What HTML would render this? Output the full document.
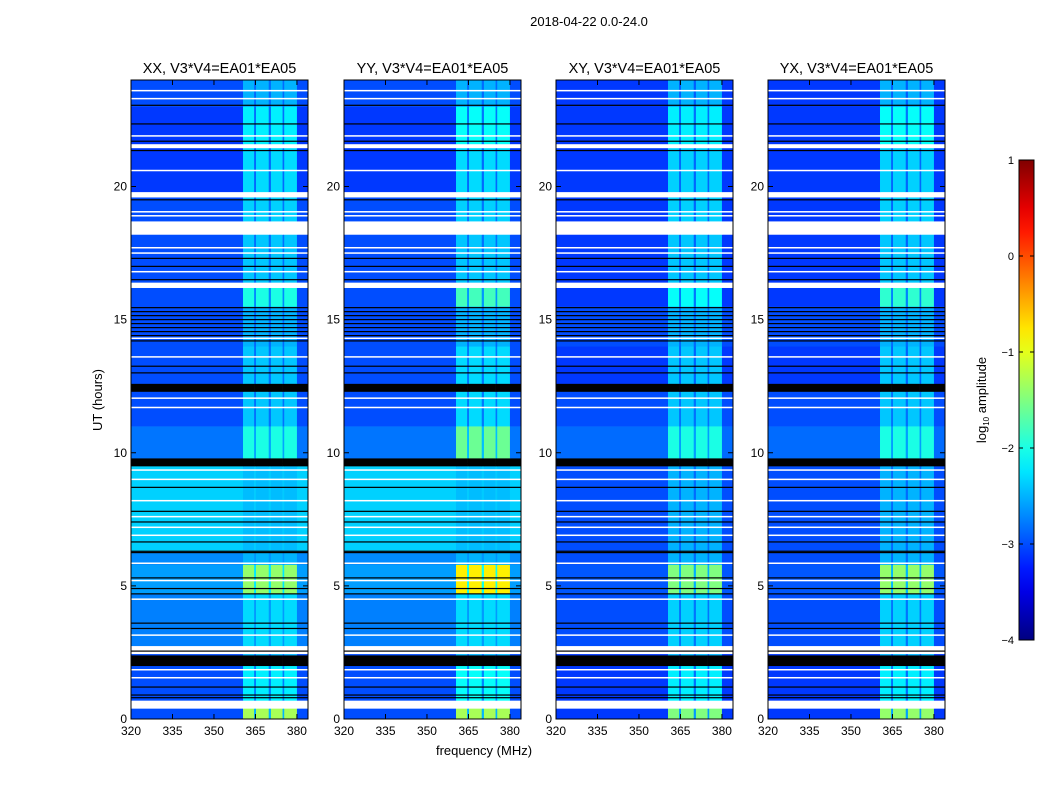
<!DOCTYPE html>
<html><head><meta charset="utf-8"><style>
body{margin:0;background:#fff;}
svg text{font-family:"Liberation Sans","DejaVu Sans",sans-serif;fill:#000;}
</style></head><body>
<svg id="chart" width="1050" height="800" viewBox="0 0 1050 800" xmlns="http://www.w3.org/2000/svg">
<rect width="1050" height="800" fill="#fff"/>
<text x="589" y="26" font-size="13" text-anchor="middle">2018-04-22 0.0-24.0</text>
<text x="102" y="400" font-size="13" text-anchor="middle" transform="rotate(-90 102 400)">UT (hours)</text>
<text x="484" y="755" font-size="13" text-anchor="middle">frequency (MHz)</text>
<g id="panels"></g>
<g id="cbar"></g>
</svg>
<script>
// ---- data ----
const panelTitles = ["XX, V3*V4=EA01*EA05","YY, V3*V4=EA01*EA05","XY, V3*V4=EA01*EA05","YX, V3*V4=EA01*EA05"];
const xTicks = [320,335,350,365,380];
const yTicks = [0,5,10,15,20];
const cbarTicks = [1,0,-1,-2,-3,-4];
// time segments (hours); base = background log10 amplitude; null = flagged (white); "k" = black
const segStart = [0,0.4,0.7,2.0,2.4,2.45,2.75,4.7,5.8,6.3,9.5,9.8,11.0,12.3,12.6,14.0,15.5,16.2,16.4,18.2,18.7,19.6,19.8,21.45,21.6,23.0];
const segEnd   = [0.4,0.7,2.0,2.4,2.45,2.75,4.7,5.8,6.3,9.5,9.8,11.0,12.3,12.6,14.0,15.5,16.2,16.4,18.2,18.7,19.6,19.8,21.45,21.6,23.0,24.0];
const baseXX = [-3.0,null,-3.0,"k",-3.0,null,-2.75,-2.6,-2.7,-2.35,"k",-2.8,-3.0,"k",-3.0,-3.0,-3.0,null,-3.0,null,-3.0,null,-3.1,null,-3.1,-3.0];
const baseYY = [-3.0,null,-3.0,"k",-3.0,null,-2.75,-2.6,-2.7,-2.35,"k",-2.8,-3.0,"k",-3.0,-3.0,-3.0,null,-3.0,null,-3.0,null,-3.1,null,-3.1,-3.0];
const baseXY = [-3.1,null,-3.1,"k",-3.1,null,-3.0,-2.95,-3.0,-3.0,"k",-2.85,-3.0,"k",-3.1,-3.0,-3.1,null,-3.1,null,-3.1,null,-3.1,null,-3.1,-3.1];
const baseYX = [-3.1,null,-3.1,"k",-3.1,null,-3.0,-2.95,-3.0,-3.0,"k",-2.85,-3.0,"k",-3.1,-3.0,-3.1,null,-3.1,null,-3.1,null,-3.1,null,-3.1,-3.1];
const rfiXX = [-1.3,null,-2.2,"k",-2.5,null,-2.3,-1.4,-2.5,-2.45,"k",-2.0,-2.4,"k",-2.4,-2.5,-2.0,null,-2.4,null,-2.35,null,-2.3,null,-2.2,-2.5];
const rfiYY = [-1.3,null,-2.1,"k",-2.5,null,-2.3,-0.8,-2.5,-2.45,"k",-1.6,-2.3,"k",-2.3,-2.5,-1.8,null,-2.4,null,-2.35,null,-2.3,null,-2.1,-2.5];
const rfiXY = [-1.5,null,-2.2,"k",-2.5,null,-2.35,-1.5,-2.5,-2.5,"k",-2.0,-2.4,"k",-2.4,-2.5,-2.1,null,-2.4,null,-2.35,null,-2.35,null,-2.2,-2.5];
const rfiYX = [-1.4,null,-2.2,"k",-2.5,null,-2.35,-1.4,-2.5,-2.5,"k",-2.0,-2.4,"k",-2.4,-2.5,-1.9,null,-2.4,null,-2.35,null,-2.35,null,-2.1,-2.5];
// frequency columns (MHz) and fraction of RFI level applied
const colStart = [320,360.5,364.5,365.2,369.8,370.6,374.8,375.4,380];
const colEnd   = [360.5,364.5,365.2,369.8,370.6,374.8,375.4,380,384];
const colRfi   = [0,1,0.3,1,0.3,1,0.3,1,0];
// thin flagged lines (hours)
const whiteLines = [23.6,23.3,21.9,20.6,19.05,18.9,17.7,17.5,16.8,14.3,13.6,12.05,11.7,9.35,9.0,8.2,7.6,7.2,6.9,5.85,5.2,4.5,3.15,1.85,1.55];
const blackLines = [23.05,22.35,21.7,21.35,19.5,17.3,17.0,16.5,13.25,13.0,9.6,8.7,7.8,7.4,6.65,6.3,6.25,5.3,4.9,4.7,3.6,3.4,2.55,1.2,0.9,0.8,15.45,15.3,15.15,15.0,14.85,14.7,14.55,14.4,14.2];
const panelBase = [baseXX,baseYY,baseXY,baseYX];
const panelRfi = [rfiXX,rfiYY,rfiXY,rfiYX];

// ---- layout ----
const panelX = [131,344,556,768];
const PW = 177, PT = 80, PB = 719;
const NS = "http://www.w3.org/2000/svg";
function xs(x0,f){return x0+(f-320)/64*PW;}
function ys(h){return PB-h/24*(PB-PT);}
function jet(t){
  t=Math.max(0,Math.min(1,t));
  const r=Math.max(0,Math.min(1,1.5-Math.abs(4*t-3)));
  const g=Math.max(0,Math.min(1,1.5-Math.abs(4*t-2)));
  const b=Math.max(0,Math.min(1,1.5-Math.abs(4*t-1)));
  return `rgb(${Math.round(r*255)},${Math.round(g*255)},${Math.round(b*255)})`;
}
function cmap(v){return jet((v+4)/5);}
function mk(tag,attrs,parent){const e=document.createElementNS(NS,tag);for(const k in attrs)e.setAttribute(k,attrs[k]);parent.appendChild(e);return e;}

const panels=document.getElementById('panels');
panelTitles.forEach((title,p)=>{
  const x0=panelX[p];
  const g=mk('g',{},panels);
  
  
  const base=panelBase[p], rfi=panelRfi[p];
  for(let s=0;s<segStart.length;s++){
    const y1=ys(segEnd[s]), y2=ys(segStart[s]);
    for(let c=0;c<colStart.length;c++){
      let fill;
      if(base[s]===null) fill='#fff';
      else if(base[s]==='k') fill='#000';
      else fill=cmap(base[s]+colRfi[c]*(rfi[s]-base[s]));
      const r=mk('rect',{x:xs(x0,colStart[c]),y:y1,width:xs(x0,colEnd[c])-xs(x0,colStart[c])+0.3,height:y2-y1+0.3,fill:fill},g);
      
      
    }
  }
  whiteLines.forEach(h=>{const l=mk('rect',{x:x0,y:ys(h)-0.75,width:PW,height:1.5,fill:'#fff'},g);
    
    });
  blackLines.forEach(h=>{const l=mk('rect',{x:x0,y:ys(h)-0.6,width:PW,height:1.2,fill:'#000'},g);
    
    });
  const fr=mk('rect',{x:x0,y:PT,width:PW,height:PB-PT,fill:'none',stroke:'#000','stroke-width':1},g);
  
  
  const t=mk('text',{x:x0+PW/2,y:PT-7,'font-size':14.5,'text-anchor':'middle'},g);
  t.textContent=title;
  
  
  xTicks.forEach(f=>{const x=xs(x0,f);
    mk('line',{x1:x,x2:x,y1:PB,y2:PB-5,stroke:'#000'},g);
    mk('line',{x1:x,x2:x,y1:PT,y2:PT+5,stroke:'#000'},g);
    const tl=mk('text',{x:x,y:PB+16,'font-size':12,'text-anchor':'middle'},g);tl.textContent=f;
    
    });
  yTicks.forEach(h=>{const y=ys(h);
    mk('line',{x1:x0,x2:x0+5,y1:y,y2:y,stroke:'#000'},g);
    mk('line',{x1:x0+PW,x2:x0+PW-5,y1:y,y2:y,stroke:'#000'},g);
    const tl=mk('text',{x:x0-4,y:y+4,'font-size':12,'text-anchor':'end'},g);tl.textContent=h;
    
    });
});

// colorbar
const cb=document.getElementById('cbar');
const CX=1019,CW=15,CT=160,CB=640;
const defs=mk('defs',{},cb);
const grad=mk('linearGradient',{id:'jetg',x1:0,y1:1,x2:0,y2:0},defs);
for(let i=0;i<=20;i++){mk('stop',{offset:i/20,'stop-color':jet(i/20)},grad);}
mk('rect',{x:CX,y:CT,width:CW,height:CB-CT,fill:'url(#jetg)',stroke:'#000','stroke-width':1},cb);
cbarTicks.forEach(v=>{const y=CB-(v+4)/5*(CB-CT);
  mk('line',{x1:CX,x2:CX+4,y1:y,y2:y,stroke:'#000'},cb);
  mk('line',{x1:CX+CW,x2:CX+CW-4,y1:y,y2:y,stroke:'#000'},cb);
  const tl=mk('text',{x:CX-5,y:y+4,'font-size':11,'text-anchor':'end'},cb);
  tl.textContent=v<0?'\u2212'+(-v):String(v);
  
  });
const cl=mk('text',{x:986,y:400,'font-size':13,'text-anchor':'middle',transform:'rotate(-90 986 400)'},cb);
cl.innerHTML='log<tspan font-size="8" dy="3">10</tspan><tspan dy="-3"> amplitude</tspan>';


</script>
</body></html>
